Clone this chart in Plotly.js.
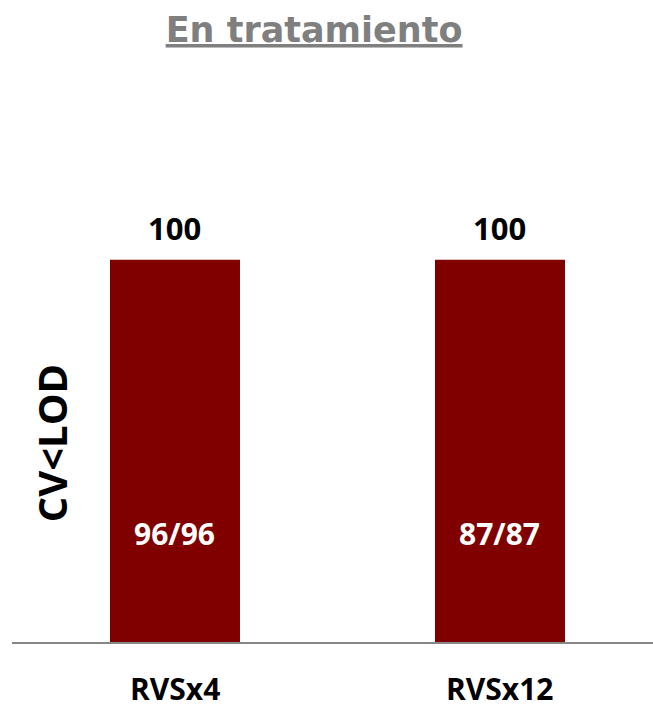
<!DOCTYPE html>
<html><head><meta charset="utf-8">
<script src="https://cdn.plot.ly/plotly-3.0.1.min.js"></script>
<style>html,body{margin:0;padding:0;background:#fff}#c{width:653px;height:709px}</style>
</head><body><div id="c"></div>
<script>
const categories = ["RVSx4", "RVSx12"];
const values = [100, 100];
const innerLabels = ["96/96", "87/87"];
const titleText = "En tratamiento";
const yTitle = "CV<LOD";

const FONT = "'Open Sans', sans-serif";
const annotations = [];
categories.forEach((c, i) => {
  annotations.push({x: c, y: values[i], xref: 'x', yref: 'y', text: '<b>' + values[i] + '</b>',
    showarrow: false, yanchor: 'middle', yshift: 32, font: {family: FONT, size: 31, color: '#000'}});
  annotations.push({x: c, y: values[i] * 0.283, xref: 'x', yref: 'y', text: '<b>' + innerLabels[i] + '</b>',
    showarrow: false, yanchor: 'middle', font: {family: FONT, size: 30, color: '#fff'}});
  annotations.push({x: c, y: 0, xref: 'x', yref: 'y', text: '<b>' + c + '</b>',
    showarrow: false, yanchor: 'middle', yshift: -46, font: {family: FONT, size: 30, color: '#000'}});
});
annotations.push({x: 0.0608, y: 0.3997, xref: 'paper', yref: 'paper', text: '<b>' + yTitle.replace('<', '&lt;') + '</b>',
  textangle: -90, showarrow: false, xanchor: 'center', yanchor: 'middle', font: {family: FONT, size: 40, color: '#000'}});

Plotly.newPlot('c', [{
  type: 'bar', x: categories, y: values, width: 0.4,
  marker: {color: '#800000', line: {width: 0}}, hoverinfo: 'none'
}], {
  width: 653, height: 709,
  margin: {l: 12, r: 0, t: 145.4, b: 67},
  paper_bgcolor: '#fff', plot_bgcolor: '#fff',
  showlegend: false,
  title: {text: '<b><u>' + titleText + '</u></b>', x: 0.481, xanchor: 'center', y: 0.958, yanchor: 'middle',
    font: {family: "'DejaVu Sans', sans-serif", size: 35, color: '#7f7f7f'}},
  xaxis: {type: 'category', range: [-0.5015, 1.4708], showline: true, linecolor: '#878787', linewidth: 2,
    ticks: '', showticklabels: false, showgrid: false, zeroline: false, fixedrange: true},
  yaxis: {range: [0, 130], visible: false, showgrid: false, zeroline: false, fixedrange: true},
  annotations: annotations
}, {displayModeBar: false, staticPlot: true});
</script>
</body></html>
